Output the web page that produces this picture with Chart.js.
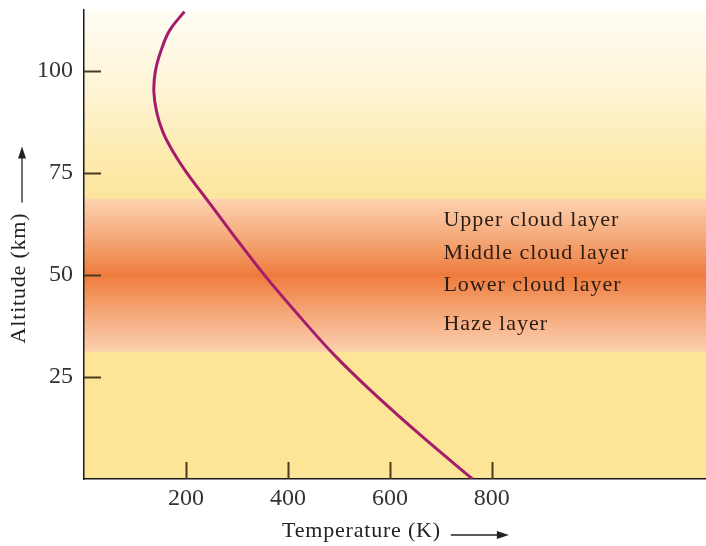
<!DOCTYPE html>
<html><head><meta charset="utf-8">
<script src="https://cdn.jsdelivr.net/npm/chart.js@4.4.0/dist/chart.umd.min.js"></script>
<style>html,body{margin:0;padding:0;background:#fff;}#wrap{width:706px;height:546px;}</style>
</head><body><div id="wrap"><canvas id="c" width="706" height="546"></canvas></div>
<script>
const temperatureK = [762, 667, 577, 494, 422, 354, 292, 262, 232, 202, 176, 155, 142.5, 137, 140, 151, 168, 197];
const altitudeKm   = [0, 10, 20, 30, 40, 50, 60, 65, 70, 75, 80, 85, 90, 95, 100, 105, 110, 114.6];
const xTickValues = [200, 400, 600, 800];
const yTickValues = [25, 50, 75, 100];
const layerNames = ['Upper cloud layer', 'Middle cloud layer', 'Lower cloud layer', 'Haze layer'];
const layerAltitudes = [63.4, 55.4, 47.6, 38.0];
const layerLabelTemp = 705;
const xTitle = 'Temperature (K)';
const yTitle = 'Altitude (km)';

const SERIF = '"Liberation Serif", "DejaVu Serif", serif';

const bgStops = [
  [0, '#fce596'], [31.2, '#fce596'], [31.3, '#fbd0ad'], [37, '#f8b78f'], [44, '#f29963'],
  [50, '#ef7b3d'], [56, '#f29a65'], [63, '#f8b98f'], [68.7, '#fcd3b1'], [68.8, '#fce59c'],
  [80, '#fdebb0'], [95, '#fef4d4'], [115, '#fffdf5']
];

const bgPlugin = {
  id: 'bg',
  beforeDraw(chart) {
    const { ctx, chartArea: a, scales: { y } } = chart;
    const g = ctx.createLinearGradient(0, a.bottom, 0, a.top);
    bgStops.forEach(([v, c]) => {
      const f = (y.getPixelForValue(v) - a.bottom) / (a.top - a.bottom);
      g.addColorStop(Math.min(1, Math.max(0, f)), c);
    });
    ctx.save();
    ctx.fillStyle = g;
    ctx.fillRect(a.left, a.top, a.right - a.left, a.bottom - a.top);
    ctx.restore();
  }
};

function arrow(ctx, x1, y1, x2, y2) {
  const ang = Math.atan2(y2 - y1, x2 - x1);
  const L = 12, W = 4;
  ctx.beginPath();
  ctx.moveTo(x1, y1);
  ctx.lineTo(x2 - Math.cos(ang) * (L - 2), y2 - Math.sin(ang) * (L - 2));
  ctx.stroke();
  ctx.beginPath();
  ctx.moveTo(x2, y2);
  ctx.lineTo(x2 - Math.cos(ang) * L - Math.sin(ang) * W, y2 - Math.sin(ang) * L + Math.cos(ang) * W);
  ctx.lineTo(x2 - Math.cos(ang) * L + Math.sin(ang) * W, y2 - Math.sin(ang) * L - Math.cos(ang) * W);
  ctx.closePath();
  ctx.fill();
}

const decoPlugin = {
  id: 'deco',
  afterDraw(chart) {
    const { ctx, chartArea: a, scales: { x, y } } = chart;
    ctx.save();
    // inward tick marks
    ctx.strokeStyle = '#4b3b22';
    ctx.lineWidth = 2;
    x.ticks.forEach(t => {
      const px = Math.round(x.getPixelForValue(t.value)) + 0.5;
      ctx.beginPath(); ctx.moveTo(px, a.bottom); ctx.lineTo(px, a.bottom - 17); ctx.stroke();
    });
    y.ticks.forEach(t => {
      const py = Math.round(y.getPixelForValue(t.value)) + 0.5;
      ctx.beginPath(); ctx.moveTo(a.left, py); ctx.lineTo(a.left + 17, py); ctx.stroke();
    });
    // layer labels
    ctx.fillStyle = '#2b1c14';
    ctx.font = '22px ' + SERIF;
    ctx.letterSpacing = '1px';
    ctx.textAlign = 'left';
    ctx.textBaseline = 'middle';
    layerNames.forEach((n, i) => {
      ctx.fillText(n, x.getPixelForValue(layerLabelTemp), y.getPixelForValue(layerAltitudes[i]));
    });
    // axis titles with arrows
    ctx.fillStyle = '#222';
    ctx.strokeStyle = '#222';
    ctx.lineWidth = 1.3;
    ctx.font = '22px ' + SERIF;
    ctx.letterSpacing = '0.8px';
    const xw = ctx.measureText(xTitle).width;
    const xl = a.left + 198, xy = a.bottom + 52;
    ctx.textAlign = 'left';
    ctx.fillText(xTitle, xl, xy);
    arrow(ctx, xl + xw + 10, xy + 4, xl + xw + 68, xy + 4);
    const yw = ctx.measureText(yTitle).width;
    const yc = a.top + 268, yx = 19;
    ctx.save();
    ctx.translate(yx, yc);
    ctx.rotate(-Math.PI / 2);
    ctx.textAlign = 'center';
    ctx.fillText(yTitle, 0, 0);
    ctx.restore();
    arrow(ctx, yx + 3, yc - yw / 2 - 10, yx + 3, yc - yw / 2 - 66);
    ctx.restore();
  }
};

function fixFit(size, isX) {
  return s => {
    if (isX) s.height = size; else s.width = size;
    s.paddingTop = 0; s.paddingBottom = 0; s.paddingLeft = 0; s.paddingRight = 0;
  };
}

new Chart(document.getElementById('c'), {
  type: 'scatter',
  data: {
    datasets: [{
      data: temperatureK.map((t, i) => ({ x: t, y: altitudeKm[i] })),
      showLine: true,
      borderColor: '#a51c6c',
      borderWidth: 3,
      pointRadius: 0,
      tension: 0.4,
      fill: false
    }]
  },
  options: {
    responsive: false,
    animation: false,
    devicePixelRatio: 1,
    layout: { padding: { top: 10, left: 0, right: 0, bottom: 0 } },
    plugins: { legend: { display: false }, tooltip: { enabled: false } },
    scales: {
      x: {
        type: 'linear', min: 0, max: 1220,
        afterBuildTicks: s => { s.ticks = xTickValues.map(v => ({ value: v })); },
        afterFit: fixFit(67, true),
        grid: { display: true, drawOnChartArea: false, drawTicks: false },
        border: { display: true, color: '#1a1a1a', width: 1.5 },
        ticks: { autoSkip: false, maxRotation: 0, padding: 5, color: '#333', font: { family: SERIF, size: 24 } }
      },
      y: {
        type: 'linear', min: 0, max: 115,
        afterBuildTicks: s => { s.ticks = yTickValues.map(v => ({ value: v })); },
        afterFit: fixFit(84, false),
        grid: { display: true, drawOnChartArea: false, drawTicks: false },
        border: { display: true, color: '#1a1a1a', width: 1.5 },
        ticks: { autoSkip: false, padding: 11, color: '#333', font: { family: SERIF, size: 24 } }
      }
    }
  },
  plugins: [bgPlugin, decoPlugin]
});
</script></body></html>
